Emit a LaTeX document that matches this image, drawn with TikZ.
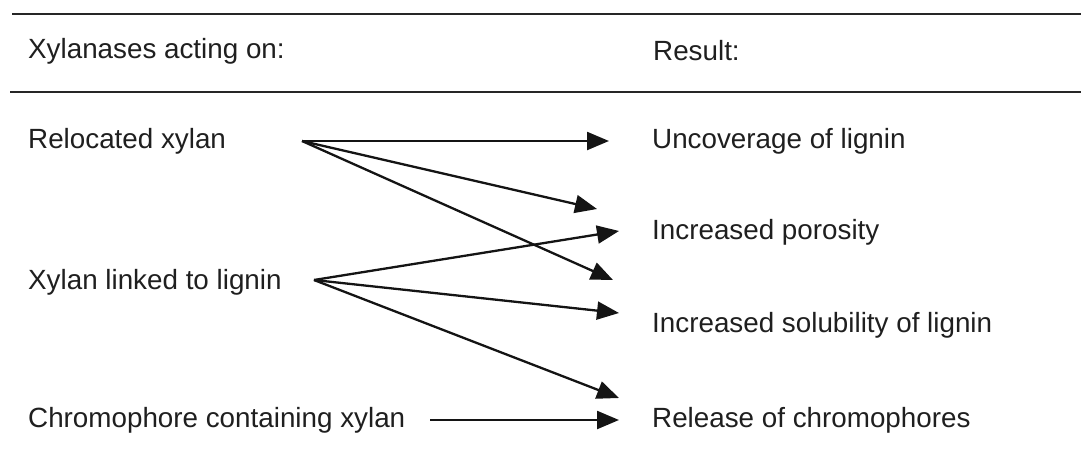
\documentclass[tikz,border=0pt]{standalone}
\usepackage{fontspec}
\setmainfont{Liberation Sans}
\usetikzlibrary{arrows.meta}

\begin{document}
\begin{tikzpicture}[x=1pt, y=-1pt,
    txt/.style={anchor=west, inner sep=0pt, text=black!88,
      font=\fontsize{27.8}{33}\selectfont},
    arr/.style={-{Triangle[length=22pt, width=18pt]}, line width=2.3pt, draw=black!92},
    rule/.style={line width=2.2pt, draw=black!85}]
    \useasboundingbox (0,0) rectangle (1081,463);
    \draw[rule] (12,14) -- (1081,14);
    \draw[rule] (10,92) -- (1081,92);
    \node[txt] (head) at (28,51) {Xylanases acting on:};
    \node[txt] (res) at (653,51) {Result:};
    \node[txt] (reloc) at (28,141) {Relocated xylan};
    \node[txt] (linked) at (28,282) {Xylan linked to lignin};
    \node[txt] (chrom) at (28,420) {Chromophore containing xylan};
    \node[txt] (uncov) at (652,141) {Uncoverage of lignin};
    \node[txt] (poros) at (652,232) {Increased porosity};
    \node[txt] (solub) at (652,325) {Increased solubility of lignin};
    \node[txt] (rel) at (652,420) {Release of chromophores};
    \coordinate (s1) at (302,141);
    \coordinate (s2) at (314,280);
    \coordinate (s3) at (430,420);
    \coordinate (t1) at (609,141);
    \coordinate (t2) at (597,209);
    \coordinate (t3) at (619,231);
    \coordinate (t4) at (613,280);
    \coordinate (t5) at (619,313);
    \coordinate (t6) at (619,398);
    \coordinate (t7) at (619,420);
    \draw[arr] (s1) to (t1);
    \draw[arr] (s1) to (t2);
    \draw[arr] (s1) to (t4);
    \draw[arr] (s2) to (t3);
    \draw[arr] (s2) to (t5);
    \draw[arr] (s2) to (t6);
    \draw[arr] (s3) to (t7);
  \end{tikzpicture}
\end{document}
